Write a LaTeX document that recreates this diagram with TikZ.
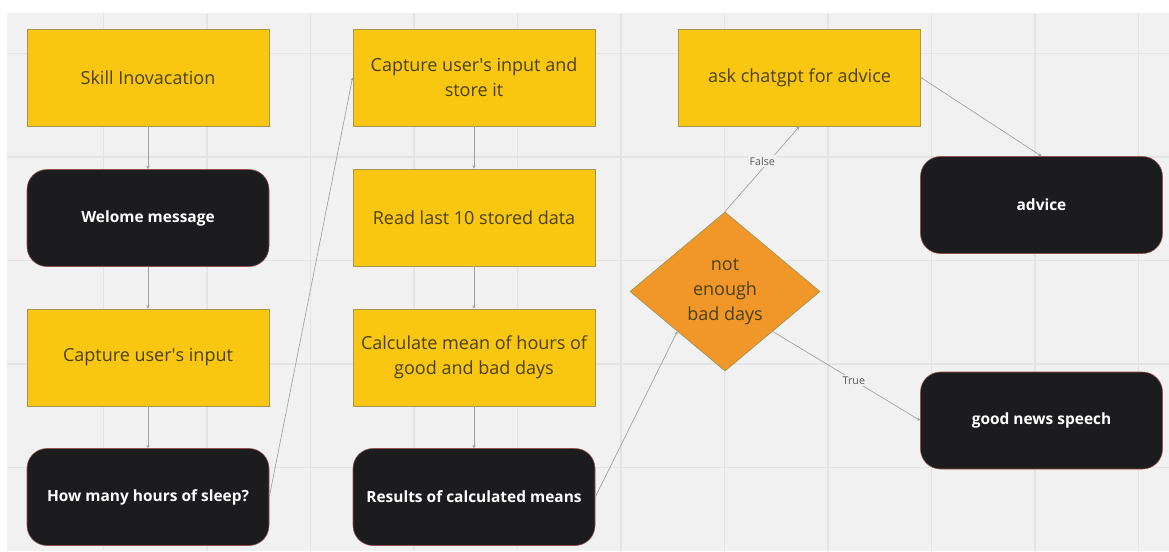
\documentclass[tikz,border=0pt]{standalone}
\usepackage{fontspec}
\setmainfont{Open Sans}
\usetikzlibrary{arrows.meta,shapes.geometric}
\definecolor{mirobg}{RGB}{241,241,241}
\definecolor{mirogrid}{RGB}{228,228,228}
\definecolor{miroyellow}{RGB}{249,199,18}
\definecolor{miroorange}{RGB}{241,150,41}
\definecolor{miroblack}{RGB}{28,28,30}
\definecolor{mirotext}{RGB}{74,64,16}
\definecolor{miroline}{RGB}{160,160,160}
\definecolor{miroedge}{RGB}{168,150,80}
\definecolor{miroredge}{RGB}{150,80,80}
\newcommand{\apos}{\textquotesingle}

\begin{document}
\begin{tikzpicture}[x=0.75pt, y=-0.75pt,
  task/.style={draw=miroedge, fill=miroyellow, text=mirotext, line width=0.6pt,
    font=\fontsize{13.5}{18.75}\selectfont, inner sep=0pt,
    minimum width=181.5pt, minimum height=72.75pt, align=center},
  term/.style={draw=miroredge, fill=miroblack, text=white, line width=0.4pt,
    rounded corners=15pt, font=\fontsize{11.6}{14}\selectfont\bfseries, inner sep=0pt,
    minimum width=181.5pt, minimum height=72.75pt, align=center},
  decide/.style={diamond, draw=miroedge, fill=miroorange, text=mirotext, line width=0.6pt,
    font=\fontsize{13.5}{18.75}\selectfont, inner sep=0pt, aspect=1.2,
    minimum width=142.5pt, minimum height=119.25pt, align=center},
  arr/.style={-{Stealth[length=2.5pt, width=2.5pt]}, line width=0.5pt, miroline},
  lbl/.style={font=\fontsize{8}{9}\selectfont, text=black!65, fill=mirobg, inner sep=1.5pt}]
% Board
\useasboundingbox (0,0) rectangle (1169,551);
\fill[white] (0,0) rectangle (1169,551);
\fill[mirobg] (7,13) rectangle (1169,551);
\foreach \gx in {103.5,207,310.5,414,517.5,621,724.5,828,931.5,1035,1138.5}
  \draw[mirogrid, line width=1.2pt] (\gx,13) -- (\gx,551);
\foreach \gy in {53.5,157,260.5,364,467.5}
  \draw[mirogrid, line width=1.2pt] (7,\gy) -- (1169,\gy);
% Left column
\node[task] (skill) at (148,77.5) {Skill Inovacation};
\node[term] (welcome) at (148,218) {Welome message};
\node[task] (input) at (148,357.5) {Capture user\apos s input};
\node[term] (hours) at (148,497) {How many hours of sleep?};
\draw[arr] (skill) -- (welcome);
\draw[arr] (welcome) -- (input);
\draw[arr] (input) -- (hours);
% Middle column
\node[task] (store) at (474,77.5) {Capture user\apos s input and\\store it};
\node[task] (read) at (474,217.5) {Read last 10 stored data};
\node[task] (mean) at (474,357.5) {Calculate mean of hours of\\good and bad days};
\node[term] (results) at (474,497) {Results of calculated means};
\draw[arr] (hours.east) -- (store.west);
\draw[arr] (store) -- (read);
\draw[arr] (read) -- (mean);
\draw[arr] (mean) -- (results);
% Decision
\node[decide] (check) at (725,291.5) {not\\enough\\bad days};
\draw[arr] (results.east) -- (check.south west);
% Right side
\node[task] (ask) at (799.5,77.5) {ask chatgpt for advice};
\node[term] (advice) at (1041.5,205) {advice};
\node[term] (good) at (1041.5,420.5) {good news speech};
\draw[arr] (check.north) -- (ask.south) node[midway, lbl, yshift=6pt] {False};
\draw[arr] (check.south east) -- (good.west) node[pos=0.55, lbl] {True};
\draw[arr] (ask.east) -- (advice.north);
\end{tikzpicture}
\end{document}
